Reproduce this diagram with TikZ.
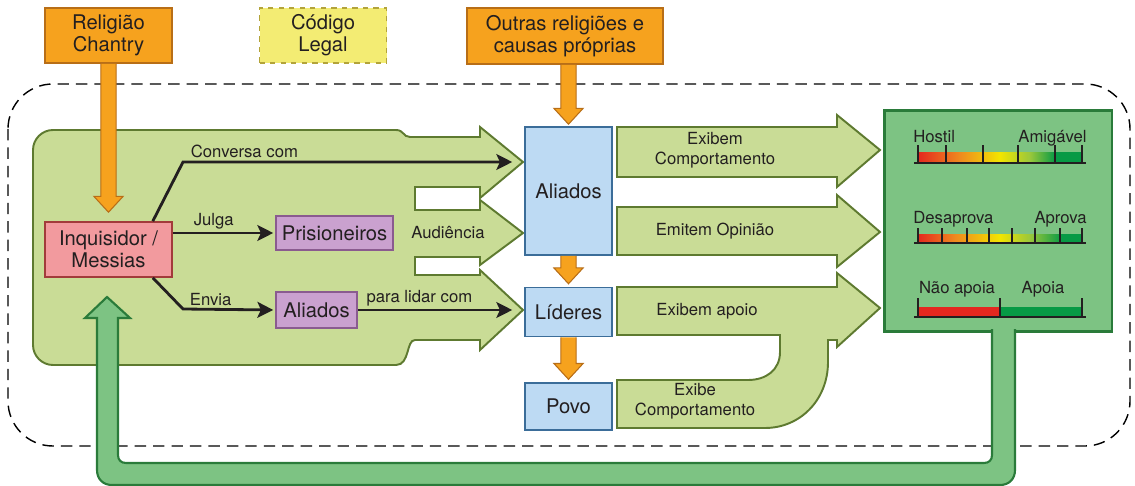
\documentclass[tikz,border=0pt]{standalone}
\usepackage{fontspec}
\setmainfont{TeX Gyre Heros}
\usetikzlibrary{arrows.meta,calc,positioning}

\definecolor{laranja}{HTML}{F6A21E}
\definecolor{laranjaborda}{HTML}{B86E17}
\definecolor{amarelo}{HTML}{F3EC73}
\definecolor{amareloborda}{HTML}{B3A43A}
\definecolor{rosa}{HTML}{F29A9E}
\definecolor{rosaborda}{HTML}{A23B3B}
\definecolor{lilas}{HTML}{CAA1CF}
\definecolor{lilasborda}{HTML}{8A5B8F}
\definecolor{azul}{HTML}{BDDAF3}
\definecolor{azulborda}{HTML}{3B6D99}
\definecolor{verdeclaro}{HTML}{C9DC96}
\definecolor{verdeclaroborda}{HTML}{5E7A30}
\definecolor{verde}{HTML}{7DC383}
\definecolor{verdeborda}{HTML}{2A7B3A}
\definecolor{texto}{HTML}{231F20}
\definecolor{gvermelho}{HTML}{E4281F}
\definecolor{glaranja}{HTML}{EF8A1F}
\definecolor{gamarelo}{HTML}{F2E500}
\definecolor{gverdelima}{HTML}{9BC83B}
\definecolor{gverde}{HTML}{079A45}

\pgfdeclarehorizontalshading{medidorA}{100bp}{color(0bp)=(gvermelho); color(25bp)=(gvermelho); color(37.8bp)=(glaranja); color(50bp)=(gamarelo); color(59bp)=(gverdelima); color(66.8bp)=(gverde); color(75bp)=(gverde); color(100bp)=(gverde)}
\pgfdeclarehorizontalshading{medidorB}{100bp}{color(0bp)=(gvermelho); color(25bp)=(gvermelho); color(36.3bp)=(glaranja); color(50bp)=(gamarelo); color(59bp)=(gverdelima); color(68.9bp)=(gverde); color(75bp)=(gverde); color(100bp)=(gverde)}

\tikzset{
  caixa/.style={draw, line width=0.9pt, text=texto, align=center, inner sep=0pt,
    font=\fontsize{11.5}{12.5}\selectfont},
  laranjabox/.style={caixa, fill=laranja, draw=laranjaborda, minimum width=2.54cm, minimum height=1.1cm},
  amarelobox/.style={caixa, fill=amarelo, draw=amareloborda, dashed, minimum width=2.54cm, minimum height=1.1cm},
  rosabox/.style={caixa, fill=rosa, draw=rosaborda, minimum width=2.54cm, minimum height=1.1cm},
  lilasbox/.style={caixa, fill=lilas, draw=lilasborda, minimum height=0.68cm},
  azulbox/.style={caixa, fill=azul, draw=azulborda, minimum width=1.74cm},
  painel/.style={draw=verdeborda, fill=verde, line width=1.7pt, minimum width=4.56cm, minimum height=4.44cm, inner sep=0pt},
  rotulo/.style={text=texto, align=center, inner sep=1.5pt, font=\fontsize{9.5}{11.3}\selectfont},
  contorno/.style={draw=black, line width=0.8pt, dash pattern=on 6.5pt off 4pt, rounded corners=0.9cm},
  regiao/.style={fill=verdeclaro, draw=verdeclaroborda, line width=1.1pt, line join=miter},
  laco/.style={fill=verde, draw=verdeborda, line width=1.2pt, line join=miter},
  setalaranja/.style={fill=laranja, draw=laranjaborda, line width=0.6pt, line join=miter},
  seta/.style={draw=texto, line width=1.6pt, shorten >=0.04cm, -{Stealth[length=9pt,width=9pt,inset=2pt]}},
  regua/.style={draw=texto, line width=1.7pt},
  marca/.style={draw=texto, line width=1.1pt},
}

% seta laranja para baixo: da origem ate a ponta
\newcommand{\setabaixo}[2]{%
  \draw[setalaranja] let \p1=(#1), \p2=(#2) in
    (\x2-4.3pt,\y1) -- (\x2-4.3pt,\y2+9pt) -- (\x2-8.3pt,\y2+9pt) -- (\x2,\y2)
    -- (\x2+8.3pt,\y2+9pt) -- (\x2+4.3pt,\y2+9pt) -- (\x2+4.3pt,\y1);}

\begin{document}
\begin{tikzpicture}[x=0.02cm, y=-0.02cm]
\useasboundingbox (0,0) rectangle (1135,486);

% contorno tracejado
\draw[contorno] (8,84) rectangle (1130,446);

% regiao do inquisidor com as tres setas
\draw[regiao] (410,137) -- (480,137) -- (480,127) -- (523,162) -- (480,198) -- (480,187)
  -- (415,187) -- (415,210) -- (480,210) -- (480,200) -- (523,233) -- (480,265) -- (480,257)
  -- (415,257) -- (415,275) -- (480,275) -- (480,270) -- (523,310) -- (480,350) -- (480,340)
  -- (415,340) .. controls (406,340) and (410,365) .. (396,365) -- (53,365)
  .. controls (42,365) and (33,356) .. (33,345) -- (33,150)
  .. controls (33,139) and (42,130) .. (53,130) -- (396,130)
  .. controls (404,130) and (403,137) .. (410,137) -- cycle;

% setas para o painel
\draw[regiao] (617,127) -- (837,127) -- (837,115) -- (880,150) -- (837,187) -- (837,177) -- (617,177) -- cycle;
\draw[regiao] (617,207) -- (837,207) -- (837,195) -- (880,232) -- (837,267) -- (837,255) -- (617,255) -- cycle;
\draw[regiao] (617,287) -- (837,287) -- (837,273) -- (880,308) -- (837,347) -- (837,340) -- (828,340)
  -- (828,362) .. controls (828,400) and (800,428) .. (765,428) -- (617,428) -- (617,380)
  -- (748,380) .. controls (766,380) and (780,370) .. (780,352) -- (780,335) -- (617,335) -- cycle;

% caixas
\node[laranjabox] (rel) at (108.5,35.5) {Religião\\Chantry};
\node[amarelobox, right=1.72cm of rel] (cod) {Código\\Legal};
\node[laranjabox, minimum width=3.92cm, minimum height=1.12cm] (outras) at (565,36) {Outras religiões e\\causas próprias};
\node[rosabox] (inq) at (108.5,249.5) {Inquisidor /\\Messias};
\node[lilasbox, minimum width=2.34cm] (pris) at (334.5,233) {Prisioneiros};
\node[lilasbox, minimum width=1.62cm, minimum height=0.72cm] (aliP) at (316.5,310) {Aliados};
\node[azulbox, minimum height=2.56cm] (ali) at (568.5,191) {Aliados};
\node[azulbox, minimum height=0.98cm, below=0.62cm of ali] (lid) {Líderes};
\node[azulbox, minimum height=0.94cm, below=0.9cm of lid] (povo) {Povo};
\node[painel] (pai) at (998,221) {};

% textos das setas grandes
\node[rotulo] (laud) at (448,233) {Audiência};
\node[rotulo] (lexibem) at (715,150) {Exibem\\Comportamento};
\node[rotulo] (lemitem) at (715,231) {Emitem Opinião};
\node[rotulo] (lapoio) at (707,311) {Exibem apoio};
\node[rotulo] (lexibe) at (695,401) {Exibe\\Comportamento};

% medidores
\shade[shading=medidorA] (918,153) rectangle (1082,162);
\draw[regua] (914,163) -- (1086,163);
\foreach \x in {918,946,983,1018,1055,1082} \draw[marca] (\x,163) -- (\x,145);
\node[rotulo, anchor=base west, inner sep=0pt] (hostil) at (913,143) {Hostil};
\node[rotulo, anchor=base east, inner sep=0pt] (amigavel) at (1087,143) {Amigável};

\shade[shading=medidorB] (918,234) rectangle (1082,242);
\draw[regua] (914,243) -- (1086,243);
\foreach \x in {918,942,967,989,1012,1035,1060,1082} \draw[marca] (\x,243) -- (\x,228);
\node[rotulo, anchor=base west, inner sep=0pt] (desaprova) at (913,223) {Desaprova};
\node[rotulo, anchor=base east, inner sep=0pt] (aprova) at (1087,223) {Aprova};

\fill[gvermelho] (918,307) rectangle (1000,316);
\fill[gverde] (1000,307) rectangle (1082,316);
\draw[regua] (914,317) -- (1086,317);
\foreach \x in {918,1000,1082} \draw[marca] (\x,317) -- (\x,298);
\node[rotulo, anchor=base, inner sep=0pt] (naoapoia) at (957,293) {Não apoia};
\node[rotulo, anchor=base, inner sep=0pt] (apoia) at (1043,293) {Apoia};

% laco de volta ao inquisidor
\path[laco] (992,329) -- (992,455) .. controls (992,460) and (989,463) .. (984,463) -- (126,463)
  .. controls (121,463) and (118,460) .. (118,455) -- (118,318) -- (130,318) -- (107,297)
  -- (85,318) -- (97,318) -- (97,470) .. controls (97,479) and (103,485) .. (112,485)
  -- (1000,485) .. controls (1009,485) and (1015,479) .. (1015,470) -- (1015,329);

% setas laranja
\setabaixo{rel.south}{$(inq.north)+(0,-9)$}
\setabaixo{outras.south}{$(ali.north)+(0,-2)$}
\setabaixo{ali.south}{$(lid.north)+(0,-3)$}
\setabaixo{lid.south}{$(povo.north)+(0,-3)$}

% setas pretas
\coordinate (c1) at (183,162);
\coordinate (c2) at (183,309);
\draw[seta, shorten >=0.24cm] ([xshift=-0.4cm]inq.north east) -- (c1)
  -- node[rotulo, above, pos=0.18] (lconv) {Conversa com} (c1 -| ali.west);
\draw[seta] (inq.east |- pris.west) -- node[rotulo, above, pos=0.4] (ljulga) {Julga} (pris.west);
\draw[seta] ([xshift=-0.4cm]inq.south east) -- (c2)
  -- node[rotulo, above, pos=0.3] (lenvia) {Envia} (aliP.west);
\draw[seta, shorten >=0.24cm] (aliP.east)
  -- node[rotulo, above, pos=0.37] (llidar) {para lidar com} (aliP.east -| lid.west);
\end{tikzpicture}
\end{document}
